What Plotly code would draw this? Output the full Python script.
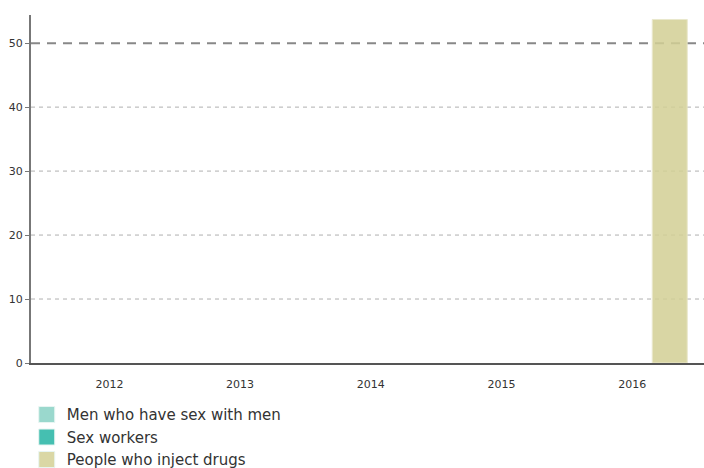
import plotly.graph_objects as go

years = ["2012", "2013", "2014", "2015", "2016"]
series_names = ["Men who have sex with men", "Sex workers", "People who inject drugs"]
series_colors = ["#9ad8cd", "#45bfb1", "#dad7a5"]
msm = [None, None, None, None, None]
sex_workers = [None, None, None, None, None]
pwid = [None, None, None, None, 53.7]
grid_values = [10, 20, 30, 40]
target_value = 50
y_ticks = [0, 10, 20, 30, 40, 50]

fig = go.Figure()
fig.add_trace(go.Bar(x=years, y=msm, name=series_names[0], marker_color=series_colors[0], showlegend=False))
fig.add_trace(go.Bar(x=years, y=sex_workers, name=series_names[1], marker_color=series_colors[1], showlegend=False))
fig.add_trace(go.Bar(x=years, y=pwid, name=series_names[2], marker_color="#d3d095",
                     marker_line_width=1, marker_line_color="#e6e4c4", opacity=0.85, showlegend=False))

# legend entries with larger square swatches
for name, color in zip(series_names, series_colors):
    fig.add_trace(go.Scatter(x=[None], y=[None], mode="markers", name=name,
                             marker=dict(symbol="square", size=16, color=color,
                                         line=dict(width=1, color="#e8f5f2"))))

for g in grid_values:
    fig.add_hline(y=g, line_dash="4px,4px", line_color="#b0b0b0", line_width=1, layer="below")
fig.add_hline(y=target_value, line_dash="9px,7px", line_color="#888888", line_width=2, layer="below")

fig.update_layout(
    width=704, height=468,
    margin=dict(l=31, r=0, t=15, b=105, autoexpand=False),
    plot_bgcolor="white", paper_bgcolor="white",
    barmode="group", bargap=0.136, bargroupgap=0.07,
    font=dict(family="DejaVu Sans", size=11, color="#333333"),
    showlegend=True,
    legend=dict(orientation="v", xref="container", x=0.038, xanchor="left",
                yref="container", y=0.149, yanchor="top",
                font=dict(size=15, color="#333333"), tracegroupgap=0, itemwidth=30,
                bgcolor="rgba(0,0,0,0)"),
)
fig.update_xaxes(type="category", range=[-0.6, 4.55], showline=True, linecolor="#555555", linewidth=1.5,
                 ticks="", showgrid=False, tickfont=dict(size=11, color="#333333"),
                 ticklabelstandoff=10, automargin=False)
fig.update_yaxes(range=[0, 54.4], tickvals=y_ticks, showline=True, linecolor="#777777", linewidth=2,
                 ticks="outside", ticklen=4, tickcolor="#777777",
                 showgrid=False, zeroline=False, tickfont=dict(size=11, color="#333333"), automargin=False)

fig.write_html("out.html", config={"displayModeBar": False},
               post_script="document.body.style.margin='0';")
